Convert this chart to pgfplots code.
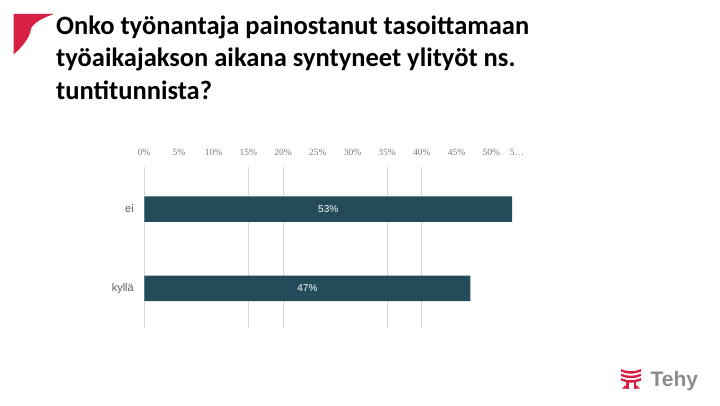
\documentclass[border=0pt]{standalone}
\usepackage{fontspec}
\setmainfont{Carlito}
\newfontfamily\tickfont{Liberation Serif}
\newfontfamily\labfont{Liberation Sans}
\usepackage{pgfplots}
\pgfplotsset{compat=1.18}
\definecolor{tehyred}{HTML}{D71F45}
\definecolor{barcol}{HTML}{234B59}
\definecolor{gridcol}{HTML}{D9D9D9}
\definecolor{tickcol}{HTML}{7A7A7A}
\definecolor{catcol}{HTML}{5F5F5F}
\definecolor{logogray}{HTML}{8C8C8C}
\begin{document}
\begin{tikzpicture}[x=1pt,y=1pt]
\fill[white] (0,0) rectangle (720,405);
% red corner mark
\fill[tehyred] (13.5,391) -- (54,391) .. controls (45,388) and (34,383) .. (31,376.5) .. controls (30,367) and (22,358) .. (13.5,350.5) -- cycle;
% title
\node[anchor=base west, inner sep=0pt, font=\fontsize{26.5}{30}\selectfont\bfseries] at (56,405-34.3) {Onko työnantaja painostanut tasoittamaan};
\node[anchor=base west, inner sep=0pt, font=\fontsize{26.5}{30}\selectfont\bfseries] at (56,405-66.7) {työaikajakson aikana syntyneet ylityöt ns.};
\node[anchor=base west, inner sep=0pt, font=\fontsize{26.5}{30}\selectfont\bfseries] at (56,405-99.3) {tuntitunnista?};
% chart
\begin{axis}[at={(144.3pt,77pt)}, anchor=south west, scale only axis,
  width=381.7pt, height=161pt,
  xmin=0, xmax=55, ymin=-0.5, ymax=1.53,
  axis line style={draw=none}, major tick length=0pt,
  xtick={0,5,10,15,20,25,30,35,40,45,50,53.7},
  xticklabels={0\%,5\%,10\%,15\%,20\%,25\%,30\%,35\%,40\%,45\%,50\%,5\ldots},
  xticklabel pos=upper,
  xticklabel style={font=\tickfont\fontsize{9.5}{10}\selectfont, text=tickcol, anchor=base, yshift=11pt},
  extra x ticks={0,15,20,35,40}, extra x tick labels={},
  extra x tick style={grid=major, major grid style={gridcol, line width=0.8pt}},
  ytick={0,1}, yticklabels={kyllä,ei},
  yticklabel style={font=\labfont\fontsize{11}{12}\selectfont, text=catcol, xshift=-7pt},
  clip=false]
\addplot[xbar, bar width=25.5pt, fill=barcol, draw=none] coordinates {(53,1) (47,0)};
\addplot[only marks, mark=none, nodes near coords, point meta=explicit symbolic,
  nodes near coords style={anchor=center, font=\labfont\fontsize{10}{11}\selectfont, text=white}]
  coordinates {(26.5,1) [53\%] (23.5,0) [47\%]};
\end{axis}
% logo
\begin{scope}[tehyred]
\fill (621,405-369) .. controls (627,405-372) and (635,405-372) .. (641,405-369) -- (641,405-371.5) .. controls (635,405-374.5) and (627,405-374.5) .. (621,405-371.5) -- cycle;
\fill (621,405-373.5) .. controls (627,405-376.5) and (635,405-376.5) .. (641,405-373.5) -- (641,405-376) .. controls (635,405-379) and (627,405-379) .. (621,405-376) -- cycle;
\fill (621,405-378) .. controls (627,405-381) and (635,405-381) .. (641,405-378) -- (641,405-380.5) .. controls (635,405-383.5) and (627,405-383.5) .. (621,405-380.5) -- cycle;
\fill (626,405-382) rectangle (628.5,405-388.5);
\fill (633.5,405-382) rectangle (636,405-388.5);
\fill (622,405-388.5) .. controls (624,405-386) and (626,405-385) .. (627,405-385) -- (627,405-388.5) -- cycle;
\fill (640,405-388.5) .. controls (638,405-386) and (636,405-385) .. (635,405-385) -- (635,405-388.5) -- cycle;
\end{scope}
\node[anchor=base west, inner sep=0pt, font=\labfont\bfseries\fontsize{21}{22}\selectfont, text=logogray] at (650.5,405-386.5) {Tehy};
\end{tikzpicture}
\end{document}
